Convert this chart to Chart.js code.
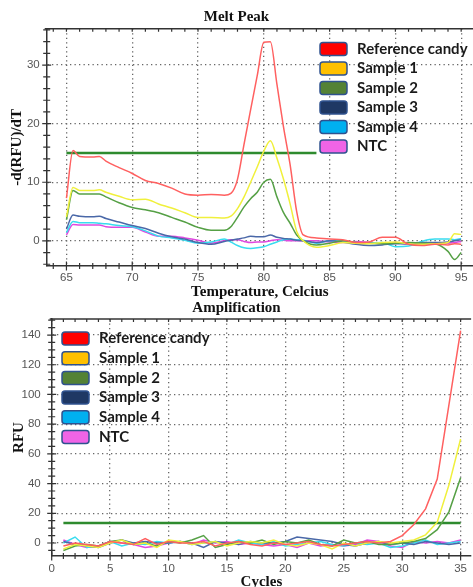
<!DOCTYPE html>
<html>
<head>
<meta charset="utf-8">
<script src="https://cdn.jsdelivr.net/npm/chart.js@4"></script>
<style>
  html, body { margin:0; padding:0; background:#fff; width:473px; height:587px; overflow:hidden; }
  canvas { position:absolute; left:0; }
</style>
</head>
<body>
<canvas id="melt" width="473" height="302" style="top:0"></canvas>
<canvas id="amp" width="473" height="300" style="top:295px"></canvas>
<script>
// series names and colours (legend swatches differ a bit from the line colours)
const seriesNames = ['Reference candy', 'Sample 1', 'Sample 2', 'Sample 3', 'Sample 4', 'NTC'];
const legendColors = ['#ff0000', '#ffc000', '#548235', '#1f3864', '#00b0f0', '#f064e6'];
const lineColors = ['#ff6060', '#f0f03c', '#55a045', '#4a68a8', '#38dcef', '#e048e0'];
const thresholdColor = '#2e8b2e';

// ---- Melt Peak ----
const meltTemps = [65, 65.5, 66, 67, 67.5, 68, 69, 70, 71, 72, 73, 74, 75, 76, 77, 77.5, 78, 78.5, 79, 79.5,
  80, 80.5, 81, 81.5, 82, 82.5, 83, 84, 85, 86, 87, 88, 89, 90, 91, 92, 93, 94, 94.5, 95];
const meltRef = [7.3, 15.4, 14.4, 14.3, 14.4, 13.6, 12.5, 11.5, 10.3, 9.8, 9.0, 8.0, 7.8, 7.9, 7.8, 8.1, 10.5, 16.5, 22.4, 28.2,
  33.9, 34.0, 26.7, 19.4, 13.0, 5.0, 1.0, 0.5, 0.3, 0.2, -0.3, -0.2, 0.6, 0.6, -0.6, -0.8, -0.6, -0.7, -0.5, -0.6];
const meltS1 = [4.1, 9.1, 8.6, 8.6, 8.7, 8.3, 7.6, 7.0, 7.1, 6.3, 5.6, 4.8, 4.0, 4.0, 3.9, 4.2, 5.5, 7.5, 10.0, 12.6,
  15.3, 17.1, 14.1, 10.5, 6.3, 1.6, 0.0, -1.1, -0.8, -0.3, -0.4, -0.5, -0.3, -0.2, -0.5, -0.6, -0.5, -0.3, 1.2, 1.1];
const meltS2 = [3.6, 8.6, 8.0, 8.0, 8.0, 7.5, 6.5, 5.7, 5.3, 4.8, 4.0, 3.2, 2.3, 1.8, 1.8, 2.4, 4.0, 5.8, 7.2, 8.3,
  10.0, 10.5, 7.5, 4.8, 3.0, 1.0, 0.0, -0.7, -0.4, 0.0, -0.3, -0.4, -0.5, -0.4, -0.3, -0.4, -0.5, -1.8, -3.2, -2.0];
const meltS3 = [2.0, 4.4, 4.2, 4.1, 4.2, 3.8, 3.2, 2.6, 2.1, 1.3, 0.7, 0.3, -0.3, -0.6, -0.1, 0.1, 0.3, 0.5, 0.8, 0.7,
  0.7, 1.0, 0.6, 0.4, 0.3, 0.1, 0.0, -0.3, 0.0, -0.2, -0.6, -0.8, -0.7, -0.5, -0.5, -0.3, -0.3, -0.2, 0.0, 0.2];
const meltS4 = [1.4, 3.3, 3.1, 3.1, 3.0, 2.9, 2.6, 2.4, 1.7, 0.8, 0.5, 0.1, -0.4, -0.2, 0.3, -0.2, -0.8, -1.2, -1.3, -1.2,
  -1.0, -0.6, -0.2, 0.2, 0.3, 0.2, 0.1, -0.4, 0.0, 0.0, -0.3, -0.4, -0.3, -1.0, -0.9, -0.1, 0.3, 0.3, 0.2, 0.4];
const meltNtc = [1.0, 2.8, 2.7, 2.7, 2.7, 2.4, 2.3, 2.3, 1.5, 0.8, 0.8, 0.5, 0.1, -0.4, 0.0, 0.2, 0.2, -0.1, -0.3, -0.2,
  -0.2, 0.0, 0.2, 0.1, 0.0, 0.0, 0.0, 0.0, -0.2, -0.3, -0.1, -0.3, -0.5, -0.3, -0.6, -0.4, -0.5, -0.4, -0.3, -0.1];
const meltThresholdX = [65, 84];
const meltThresholdY = [15, 15];
const meltXLabels = [65, 70, 75, 80, 85, 90, 95];
const meltYLabels = [0, 10, 20, 30];

// ---- Amplification ----
const ampCycles = [1, 2, 3, 4, 5, 6, 7, 8, 9, 10, 11, 12, 13, 14, 15, 16, 17, 18, 19, 20,
  21, 22, 23, 24, 25, 26, 27, 28, 29, 30, 31, 32, 33, 34, 35];
const ampRef = [-2, 0, -1, -2, 1, 0, -1, 3, -1, 1, 0, 0, 1, -2, 0, 1, -1, -2, 0, -1,
  0, 1, -1, -2, -1, 0, 1, 0, 1, 5, 12.5, 23, 43, 93, 143];
const ampS1 = [-4, -1, -2, -3, 0, 2, -1, 0, -3, 2, 1, -1, 0, 1, -2, 0, 1, 0, 2, -1,
  -2, 0, -1, -4, 0, -2, 0, 1, 0, 1, 2, 5.5, 14, 39, 70];
const ampS2 = [-5, -2, -1, -2, 1, 2, -1, 0, -2, 1, 0, 2, 5, -3, -1, 1, 0, 2, -1, 1,
  0, 2, -1, -2, 2, 0, 1, -1, -1, 0, 1, 3, 9, 21, 44];
const ampS3 = [1, -1, -2, -3, 0, 2, 0, 1, 0, 0, 1, 0, -3, 1, 0, -1, 1, 0, 0, 1,
  4, 3, 2, 1, -1, -2, 0, 1, -1, 0, -1, 1, 0, -1, 0];
const ampS4 = [0, 4, -3, -2, 1, -2, 0, -1, 1, 0, 1, -1, 0, 1, -1, 2, 0, -1, 1, -2,
  -1, 0, 1, -1, -2, 0, -1, 0, -3, -2, 0, 2, -1, 0, 1];
const ampNtc = [2, -1, -3, -2, 1, 0, -1, -3, -2, 0, 1, -1, 2, 0, 1, -1, 0, -1, -2, -1,
  -3, 0, -2, -1, -2, -1, 2, 1, -2, -3, 1, 0, 1, 0, 2];
const ampThresholdX = [1, 35];
const ampThresholdY = [13.5, 13.5];
const ampXLabels = [0, 5, 10, 15, 20, 25, 30, 35];
const ampYLabels = [0, 20, 40, 60, 80, 100, 120, 140];

function range(a, b, step) {
  const out = [];
  for (let v = a; v <= b + 1e-9; v += step) out.push(+v.toFixed(3));
  return out;
}
const pts = (xs, ys) => xs.map((x, i) => ({x: x, y: ys[i]}));

// axis frame: top border and tick marks crossing the axes
const frame = {
  id: 'frame',
  afterDraw(chart) {
    const {ctx, chartArea: a, scales: {x, y}} = chart;
    ctx.save();
    ctx.strokeStyle = '#333';
    ctx.lineWidth = 1.5;
    ctx.beginPath();
    ctx.moveTo(a.left - 2, a.top);
    ctx.lineTo(a.right, a.top);
    ctx.stroke();
    ctx.lineWidth = 1.2;
    ctx.beginPath();
    x.ticks.forEach(t => {
      const px = x.getPixelForValue(t.value);
      const d = t.label !== '' ? 4.5 : 3;
      ctx.moveTo(px, a.bottom - d); ctx.lineTo(px, a.bottom + d);
      ctx.moveTo(px, a.top); ctx.lineTo(px, a.top + 3);
    });
    y.ticks.forEach(t => {
      const py = y.getPixelForValue(t.value);
      const d = t.label !== '' ? 4.5 : 3.5;
      ctx.moveTo(a.left - d, py); ctx.lineTo(a.left + d, py);
    });
    ctx.stroke();
    ctx.restore();
  }
};

// legend with rounded swatches
const boxLegend = {
  id: 'boxLegend',
  afterDraw(chart, args, opts) {
    const ctx = chart.ctx;
    ctx.save();
    ctx.font = 'bold 15px Lato';
    ctx.textBaseline = 'middle';
    seriesNames.forEach((name, i) => {
      const y = opts.top + i * opts.step;
      ctx.beginPath();
      ctx.roundRect(opts.left, y - 6.5, 27, 13, 3);
      ctx.fillStyle = legendColors[i];
      ctx.fill();
      ctx.lineWidth = 1.5;
      ctx.strokeStyle = '#2f528f';
      ctx.stroke();
      ctx.fillStyle = '#1a1a1a';
      ctx.fillText(name, opts.left + 37, y);
    });
    ctx.restore();
  }
};

function seriesSets(xs, ysList, thrX, thrY, tension) {
  const sets = ysList.map((ys, i) => ({
    label: seriesNames[i],
    data: pts(xs, ys),
    borderColor: lineColors[i],
    borderWidth: 1.5,
    pointRadius: 0,
    tension: tension,
    cubicInterpolationMode: tension ? 'monotone' : 'default'
  }));
  sets.push({
    label: 'Threshold',
    data: pts(thrX, thrY),
    borderColor: thresholdColor,
    borderWidth: 2.5,
    pointRadius: 0
  });
  return sets;
}

const serif = {family: 'Liberation Serif', size: 15, weight: 'bold'};
const tickFont = {family: 'Liberation Sans', size: 11.5};

function makeChart(id, o) {
  return new Chart(document.getElementById(id), {
    type: 'line',
    data: {datasets: o.datasets},
    options: {
      responsive: false,
      animation: false,
      layout: {padding: 0},
      plugins: {
        legend: {display: false},
        tooltip: {enabled: false},
        title: {display: true, text: o.title, font: serif, color: '#111', padding: o.titlePad},
        boxLegend: o.legend
      },
      scales: {
        x: {
          type: 'linear', min: o.xMin, max: o.xMax,
          afterBuildTicks: s => { s.ticks = o.xTicks.map(v => ({value: v})); },
          afterFit: s => { s.height = o.xHeight; },
          ticks: {
            font: tickFont, color: '#555', padding: o.xPad, maxRotation: 0, autoSkip: false,
            callback: v => o.xLabels.includes(v) ? String(v) : ''
          },
          grid: {
            drawTicks: false, lineWidth: 1.3,
            color: c => c.tick && o.xLabels.includes(c.tick.value) ? '#666' : 'transparent'
          },
          border: {color: '#333', width: 1.5, dash: [1.3, 3.2]},
          title: {display: true, text: o.xTitle, font: serif, color: '#111', padding: o.xTitlePad}
        },
        y: {
          min: o.yMin, max: o.yMax,
          afterBuildTicks: s => { s.ticks = o.yTicks.map(v => ({value: v})); },
          afterFit: s => { s.width = o.yWidth; },
          ticks: {
            font: tickFont, color: '#555', padding: o.yPad, autoSkip: false,
            callback: v => o.yLabels.includes(v) ? String(v) : ''
          },
          grid: {
            drawTicks: false, lineWidth: 1.3,
            color: c => c.tick && o.yLabels.includes(c.tick.value) ? '#666' : 'transparent'
          },
          border: {color: '#333', width: 1.5, dash: [1.3, 3.2]},
          title: {display: true, text: o.yTitle, font: serif, color: '#111', padding: o.yTitlePad}
        }
      }
    },
    plugins: [frame, boxLegend]
  });
}

makeChart('melt', {
  title: 'Melt Peak',
  titlePad: {top: 8, bottom: 2.8},
  datasets: seriesSets(meltTemps, [meltRef, meltS1, meltS2, meltS3, meltS4, meltNtc], meltThresholdX, meltThresholdY, 0.3),
  legend: {left: 320, top: 49, step: 19.5},
  xMin: 63.5, xMax: 95.9, xTicks: range(64, 95, 1), xLabels: meltXLabels,
  xHeight: 36, xPad: 5, xTitle: 'Temperature, Celcius', xTitlePad: {top: 0, bottom: 1},
  yMin: -4.3, yMax: 36.2, yTicks: range(-4, 36, 2), yLabels: meltYLabels,
  yWidth: 46.7, yPad: 7, yTitle: '-d(RFU)/dT', yTitlePad: {top: 8.5, bottom: 0}
});

makeChart('amp', {
  title: 'Amplification',
  titlePad: {top: 4, bottom: 2},
  datasets: seriesSets(ampCycles, [ampRef, ampS1, ampS2, ampS3, ampS4, ampNtc], ampThresholdX, ampThresholdY, 0),
  legend: {left: 62, top: 43.5, step: 19.7},
  xMin: 0, xMax: 35.9, xTicks: range(0, 35, 1), xLabels: ampXLabels,
  xHeight: 39, xPad: 6, xTitle: 'Cycles', xTitlePad: {top: 0, bottom: 3.6},
  yMin: -8.75, yMax: 150.8, yTicks: range(-5, 150, 5), yLabels: ampYLabels,
  yWidth: 51.7, yPad: 11, yTitle: 'RFU', yTitlePad: {top: 10, bottom: 0}
});
</script>
</body>
</html>
